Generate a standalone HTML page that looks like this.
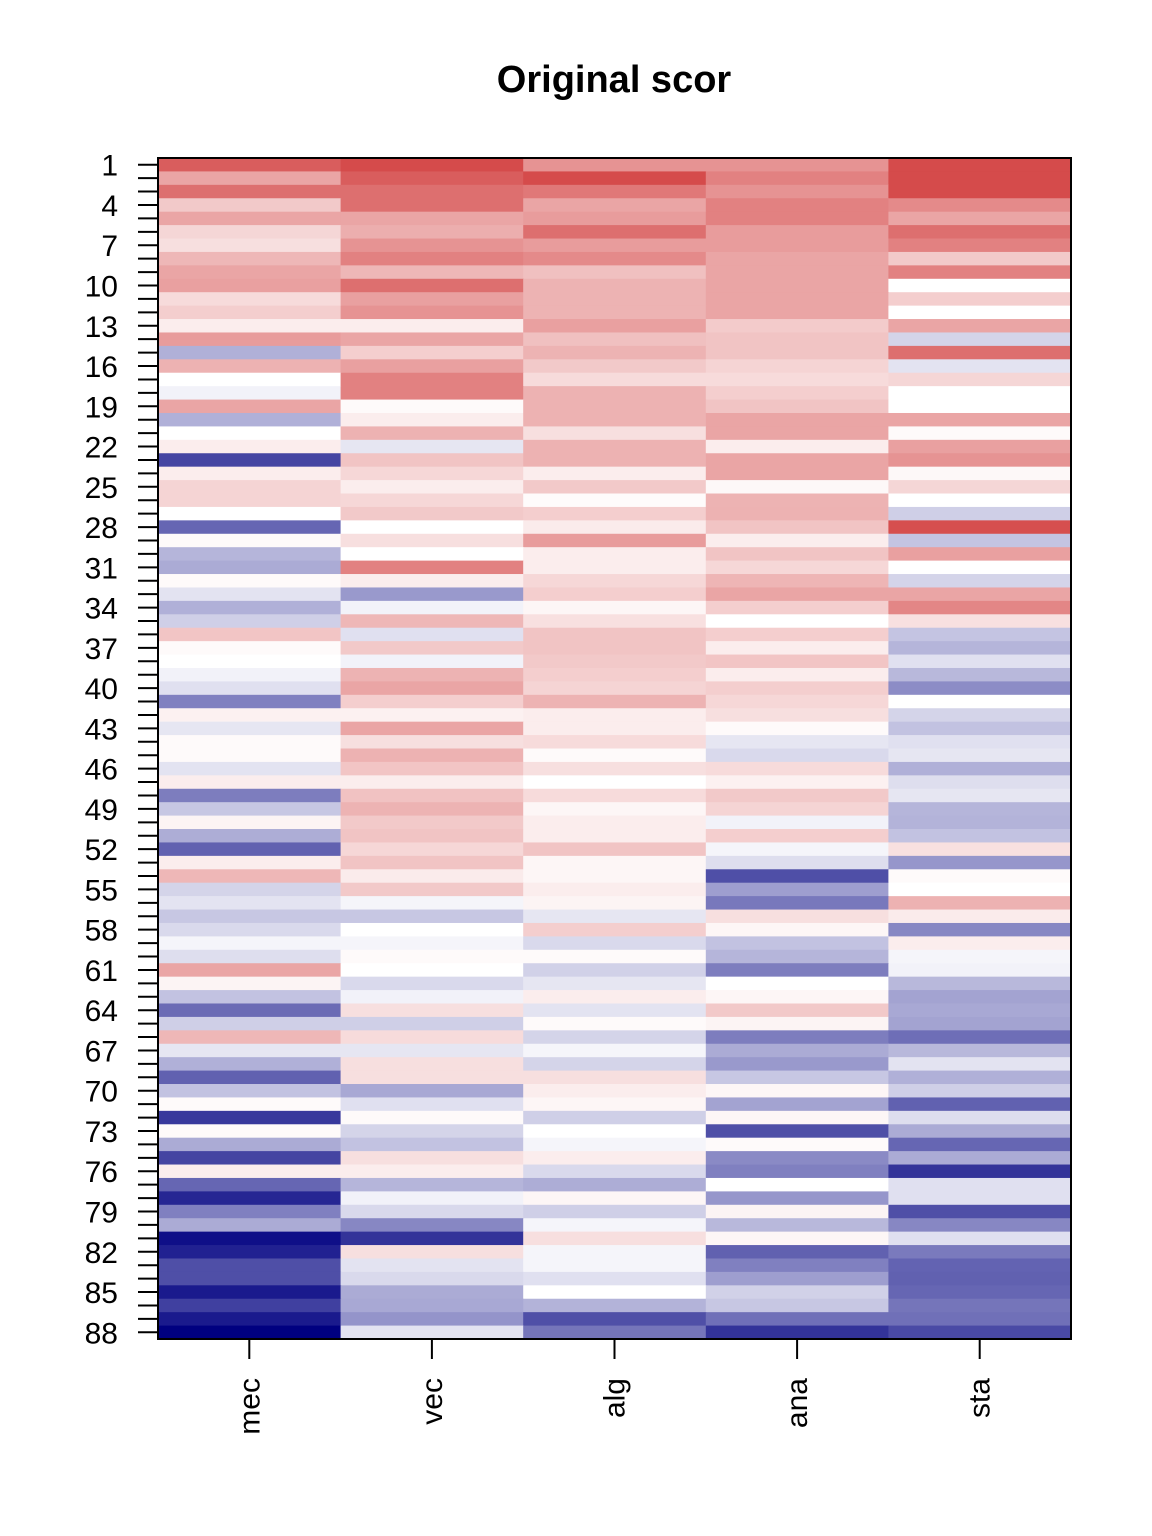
<!DOCTYPE html>
<html><head><meta charset="utf-8"><style>
html,body{margin:0;padding:0;background:#fff;}
svg{display:block;font-family:"Liberation Sans",sans-serif;}
</style></head><body>
<svg id="s" width="1152" height="1536" xmlns="http://www.w3.org/2000/svg">
<rect width="1152" height="1536" fill="#fff"/>
<text x="614" y="92" text-anchor="middle" font-size="38" font-weight="bold">Original scor</text>
<g id="cells"></g>
<g id="axes" stroke="#000" stroke-width="2"></g>
<g id="labels" font-size="30"></g>
<rect x="158" y="158" width="913" height="1181" fill="none" stroke="#000" stroke-width="2"/>
</svg>
<script>
var d=[
[9,10,6,6,10],[5,9,10,7,10],[8,8,7.5,6,10],[3,8,5,7,6.5],[5,5,5.5,7,5],
[2.3,4.5,8,5.5,8],[1.8,6,5.5,5.5,7],[4,7,6.5,5,3],[5,4,3.5,5,7],[5.3,8,4.2,5,0],
[2,5.3,4.2,5,2.7],[2.7,6,4.2,5,0],[1,1,5.3,2.9,5],[5.5,5,3.5,3.3,-1.7],[-3.1,2.7,4.2,3.3,8],
[4.3,5.3,3,2.4,-1.1],[0,7,2,2,2.3],[-0.5,7,4.3,2.7,0],[5,0.3,4.3,3.3,0],[-3.1,1,4.3,5,5],
[0,4.3,1.8,5,0.3],[1,-1,4.3,1,5.3],[-7.3,3.3,4.3,5,6],[1,2.2,1,5,0.4],[2.4,1,3,0.4,2.3],
[2.4,2.2,0.2,4.2,0],[0,3,2.7,4.3,-1.9],[-6,0,1.1,3.3,9.8],[0.3,1.8,5.5,1,-2.3],[-2.9,0,1,3.3,5.3],
[-3.3,7,1,2.2,0],[0.3,1,2.2,4.1,-1.7],[-1.1,-4,2.7,5,5],[-3.1,-0.5,0.5,2.7,6.7],[-1.9,4,1.7,0,1.7],
[3.2,-1.2,3.3,2.7,-2.3],[0.3,3,3.3,1,-2.9],[0,-0.5,3,3.2,-1.2],[-0.5,4.2,2.7,1,-2.8],[-1.2,5,2.4,2.7,-4.5],
[-5,2.7,4.2,2.2,0],[0.8,0.8,1,1.8,-1.7],[-1,5,1,0.3,-2.4],[0.3,1.8,2,-1,-1.2],[0.3,4.3,0.3,-1.5,-1],
[-1.1,3.2,1.8,2,-3.1],[1,1,0,0.8,-1.3],[-5.1,3.4,2,3,-1],[-2.2,4.2,0.5,2.4,-2.9],[0.6,3,1,-0.5,-3],
[-3.2,3.3,1,2.7,-2.4],[-6.2,2.2,3.3,-0.4,1.7],[1,3.3,0.5,-1.3,-4.1],[4,1.1,0.5,-6.9,0.3],[-1.7,3,1,-3.8,0],
[-1.1,-0.4,0.6,-5.3,4.3],[-2.2,-2.2,-1,1.8,1.1],[-1.5,0,2.7,0.5,-4.7],[-0.4,-0.4,-1.5,-2.4,1],[-1.3,0.3,0.3,-2.9,-0.4],
[5,0,-1.8,-5.1,-0.5],[0.6,-1.5,-1,0,-2.8],[-2.4,-0.5,1,0.5,-3.6],[-5.8,1.8,-1.1,3,-3.4],[-1.9,-1.9,0.3,0.6,-3.6],
[4,2,-1.7,-5.1,-5.7],[-1,-1,-0.4,-3.3,-2.8],[-3.1,1.8,-1.7,-4,-1.1],[-6.2,1.8,1.8,-2.2,-3.1],[-2.4,-3.4,1,0.5,-1.9],
[0.3,-1.2,0.5,-3.6,-6.2],[-7.8,0.3,-1.9,0.5,-1.3],[0.3,-1.7,0,-6.9,-3.3],[-3.3,-2.4,-0.4,0.3,-6],[-7.3,1.8,1,-4.6,-3.3],
[1,1,-1.5,-5,-8],[-6,-2.9,-3.2,0,-1.2],[-8.5,-0.5,0.5,-4.1,-1.2],[-5,-1.5,-1.9,0.6,-6.9],[-3.3,-4.7,-0.4,-2.8,-4.7],
[-9.4,-8,1.8,0.5,-1.2],[-8.7,1.8,-0.4,-6.2,-5.2],[-6.9,-1.1,-0.4,-5,-6.1],[-6.9,-1.5,-1.2,-3.8,-6.2],[-9,-3.3,0,-1.8,-6],
[-7.5,-3.4,-3,-2.2,-5.4],[-9,-4.2,-6.9,-5.6,-5.6],[-10,-1.1,-5.4,-8,-7.1]];
function col(v){var t=Math.abs(v)/10,e=v>=0?[213,75,75]:[0,0,128];
return 'rgb('+[0,1,2].map(function(i){return Math.round(255+(e[i]-255)*t)}).join(',')+')';}
var rh=1181/88,cw=913/5,h='';
for(var r=0;r<88;r++)for(var c=0;c<5;c++){
h+='<rect x="'+(158+c*cw)+'" y="'+(158+r*rh)+'" width="'+(cw+0.6)+'" height="'+(rh+0.6)+'" fill="'+col(d[r][c])+'"/>';}
document.getElementById('cells').innerHTML=h;
var a='',l='';
for(var r=0;r<88;r++){var y=158+(r+0.5)*rh;a+='<line x1="138" x2="158" y1="'+y+'" y2="'+y+'"/>';
if(r%3==0)l+='<text x="118" y="'+(y+11)+'" text-anchor="end">'+(r+1)+'</text>';}
var n=['mec','vec','alg','ana','sta'];
for(var c=0;c<5;c++){var x=158+(c+0.5)*cw;a+='<line x1="'+x+'" x2="'+x+'" y1="1339" y2="1359"/>';
l+='<text transform="translate('+(x+10)+',1378) rotate(-90)" text-anchor="end">'+n[c]+'</text>';}
document.getElementById('axes').innerHTML=a;
document.getElementById('labels').innerHTML=l;
</script>
</body></html>
